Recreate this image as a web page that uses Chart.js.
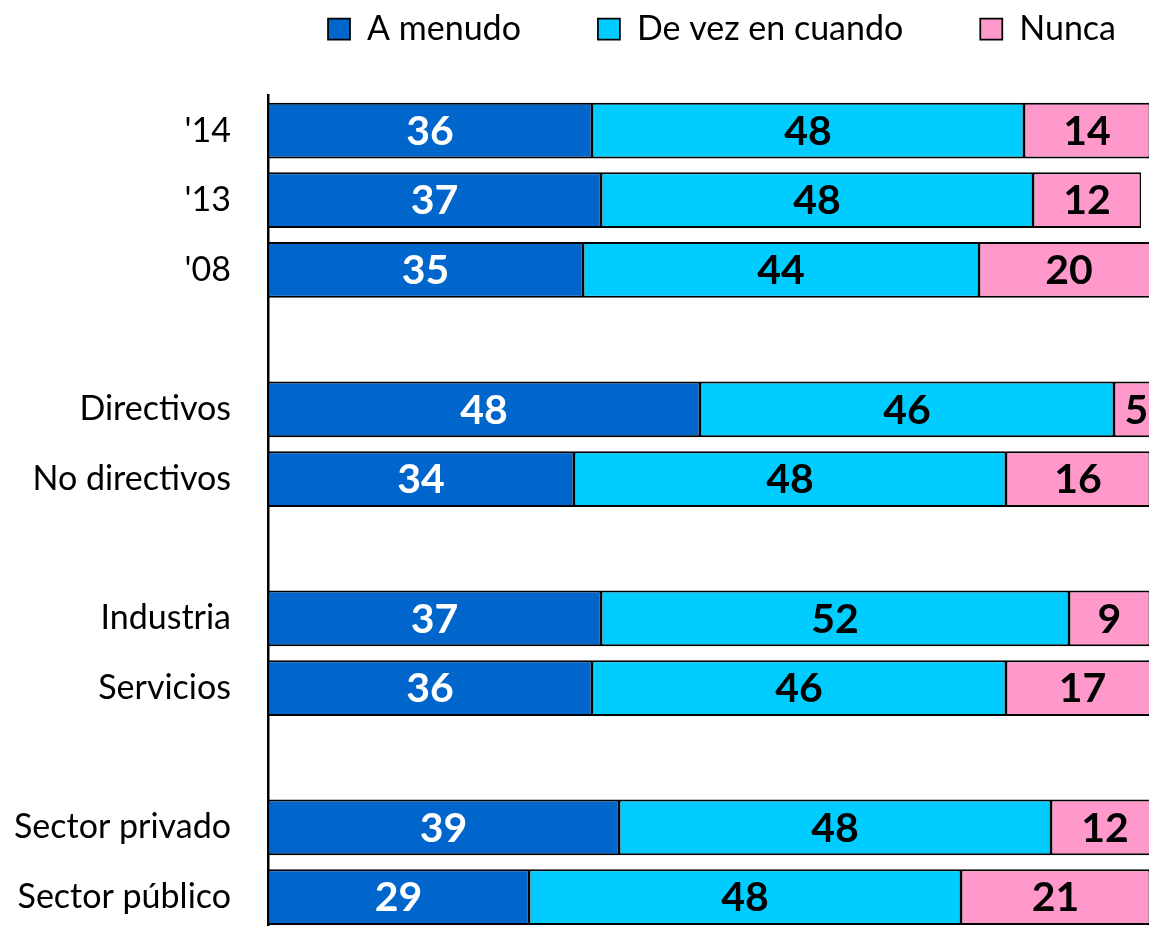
<!DOCTYPE html>
<html>
<head>
<meta charset="utf-8">
<script src="https://cdn.jsdelivr.net/npm/chart.js@4.4.1/dist/chart.umd.min.js"></script>
<style>
  html, body { margin: 0; padding: 0; background: #fff; overflow: hidden; width: 1149px; height: 926px; }
  #wrap { position: absolute; left: 0; top: 0; }
</style>
</head>
<body>
<div id="wrap"><canvas id="c" width="1193" height="932"></canvas></div>
<script>
const categories = ["'14", "'13", "'08", "", "Directivos", "No directivos", "", "Industria", "Servicios", "", "Sector privado", "Sector público"];
const seriesNames = ["A menudo", "De vez en cuando", "Nunca"];
const aMenudo = [36, 37, 35, null, 48, 34, null, 37, 36, null, 39, 29];
const deVezEnCuando = [48, 48, 44, null, 46, 48, null, 52, 46, null, 48, 48];
const nunca = [14, 12, 20, null, 5, 16, null, 9, 17, null, 12, 21];

const colors = ['#0066CC', '#00CCFF', '#FF99CC'];
const labelColors = ['#FFFFFF', '#000000', '#000000'];

const valueLabels = {
  id: 'valueLabels',
  afterDatasetsDraw(chart) {
    const ctx = chart.ctx;
    ctx.save();
    ctx.font = 'bold 41px Lato';
    ctx.textAlign = 'center';
    ctx.textBaseline = 'middle';
    chart.data.datasets.forEach((ds, i) => {
      const meta = chart.getDatasetMeta(i);
      meta.data.forEach((el, j) => {
        const v = ds.data[j];
        if (v === null || v === undefined) return;
        const props = el.getProps(['x', 'y', 'base'], true);
        ctx.fillStyle = labelColors[i];
        ctx.fillText(String(v), (props.x + props.base) / 2, props.y + 1);
      });
    });
    ctx.restore();
  }
};

// Adds space below the legend row (gap between legend and plot area)
const legendGap = {
  id: 'legendGap',
  afterInit(chart) {
    const lg = chart.legend;
    if (!lg || lg._gapPatched) return;
    const orig = lg.fit;
    lg.fit = function () { orig.apply(this, arguments); this.height += 39.7; };
    lg._gapPatched = true;
  }
};

function build() {
  const bw = {top: 2, bottom: 2, left: 1.5, right: 1.5};
  const mk = (label, data, color) => ({
    label, data, backgroundColor: color, borderColor: '#000', borderWidth: bw,
    borderSkipped: false, barPercentage: 0.8, categoryPercentage: 1.0
  });
  new Chart(document.getElementById('c'), {
    type: 'bar',
    data: {
      labels: categories,
      datasets: [
        mk(seriesNames[0], aMenudo, colors[0]),
        mk(seriesNames[1], deVezEnCuando, colors[1]),
        mk(seriesNames[2], nunca, colors[2])
      ]
    },
    options: {
      indexAxis: 'y',
      responsive: false,
      animation: false,
      devicePixelRatio: 1,
      layout: { padding: { top: -65, left: 0, right: 0, bottom: 0 } },
      plugins: {
        tooltip: { enabled: false },
        legend: {
          position: 'top',
          align: 'end',
          labels: {
            font: { family: 'Lato', size: 34 },
            color: '#000',
            boxWidth: 22,
            boxHeight: 21,
            padding: 77
          }
        }
      },
      scales: {
        x: { stacked: true, display: false, min: 0, max: 102.78 },
        y: {
          stacked: true,
          grid: { display: false, drawTicks: false },
          border: { display: true, color: '#000', width: 2.5 },
          ticks: { font: { family: 'Lato', size: 34 }, color: '#000', padding: 37, autoSkip: false },
          afterFit(scale) { scale.width = 268; scale.paddingTop = 0; scale.paddingBottom = 0; }
        }
      }
    },
    plugins: [legendGap, valueLabels]
  });
}

if (document.fonts && document.fonts.load) {
  Promise.all([document.fonts.load('34px Lato'), document.fonts.load('bold 41px Lato')]).then(build, build);
} else {
  build();
}
</script>
</body>
</html>
